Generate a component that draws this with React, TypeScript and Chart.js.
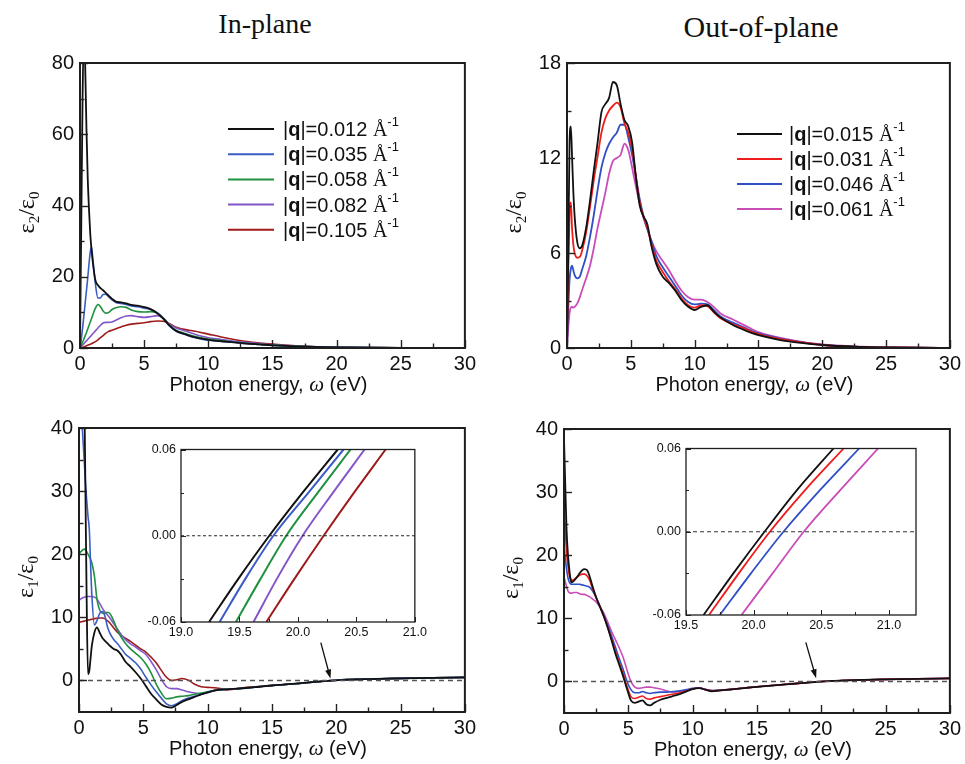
import React, { useEffect, useRef } from 'react';
import { Chart, registerables } from 'chart.js';

Chart.register(...registerables);

const SANS = '"Liberation Sans", Arial, Helvetica, sans-serif';
const SERIF = '"Liberation Serif", "Times New Roman", serif';

// ---------------- data ----------------
const inPlaneQ = ['0.012', '0.035', '0.058', '0.082', '0.105'];
const outPlaneQ = ['0.015', '0.031', '0.046', '0.061'];
const inPlaneColors = ['#111111', '#3b5cc4', '#1f9140', '#8457c9', '#9e1b1b'];
const outPlaneColors = ['#111111', '#f01c1c', '#2f4fc4', '#c84db8'];

// In-plane eps2 (top left)
const energyInE2 = [0, 0.1, 0.2, 0.3, 0.4, 0.5, 0.6, 0.7, 0.8, 0.9, 1.0, 1.2, 1.4, 1.6, 1.8, 2.0, 2.2, 2.5, 2.8, 3.2, 3.6, 4.0, 4.5, 5.0, 5.5, 6.0, 6.5, 7.0, 7.5, 8.0, 8.5, 9.0, 9.5, 10, 11, 12, 13, 14, 15, 17.5, 20, 22.5, 25, 27.5, 30];
const e2In_q012 = [0, 35, 70, 88, 80, 62, 48, 39, 32, 27.5, 24, 19, 17.6, 16.8, 16.2, 15.5, 14.8, 13.8, 13.0, 12.8, 12.5, 12.1, 11.9, 11.5, 10.9, 9.8, 8.2, 6.2, 4.8, 4.1, 3.5, 3.0, 2.6, 2.3, 1.9, 1.6, 1.25, 1.0, 0.75, 0.4, 0.2, 0.1, 0.06, 0.03, 0.02];
const e2In_q035 = [0, 2.5, 5.5, 9, 12.5, 16, 19.5, 23.5, 27, 28.3, 25, 18, 14.0, 14.1, 15.0, 15.1, 14.5, 13.5, 12.8, 12.5, 12.2, 11.8, 11.6, 11.2, 10.8, 9.9, 8.3, 6.1, 4.7, 4.0, 3.4, 2.9, 2.5, 2.2, 1.9, 1.6, 1.25, 1.0, 0.75, 0.4, 0.2, 0.1, 0.06, 0.03, 0.02];
const e2In_q058 = [0, 0.8, 1.6, 2.5, 3.4, 4.3, 5.3, 6.3, 7.3, 8.3, 9.3, 11.2, 12.2, 11.6, 10.4, 9.8, 9.9, 10.8, 11.3, 11.6, 11.4, 10.7, 10.2, 10.1, 10.2, 9.8, 8.4, 6.3, 4.9, 4.3, 3.7, 3.2, 2.8, 2.5, 2.1, 1.7, 1.3, 1.05, 0.8, 0.42, 0.2, 0.1, 0.06, 0.03, 0.02];
const e2In_q082 = [0, 0.4, 0.8, 1.2, 1.6, 2.0, 2.4, 2.8, 3.2, 3.6, 4.0, 4.8, 5.6, 6.4, 7.0, 7.2, 7.2, 7.3, 7.8, 8.5, 9.0, 9.1, 8.8, 8.6, 8.8, 9.1, 8.4, 6.6, 5.6, 5.0, 4.4, 3.8, 3.3, 2.9, 2.4, 1.9, 1.5, 1.2, 0.9, 0.45, 0.22, 0.11, 0.06, 0.03, 0.02];
const e2In_q105 = [0, 0.1, 0.2, 0.3, 0.45, 0.6, 0.75, 0.9, 1.05, 1.2, 1.4, 1.8, 2.3, 2.9, 3.5, 4.1, 4.6, 5.0, 5.4, 5.9, 6.4, 6.7, 6.9, 7.1, 7.4, 7.6, 7.5, 6.8, 5.8, 5.3, 5.0, 4.7, 4.3, 3.9, 3.1, 2.4, 1.8, 1.4, 1.1, 0.5, 0.25, 0.12, 0.07, 0.04, 0.02];

// Out-of-plane eps2 (top right)
const energyOutE2 = [0, 0.1, 0.2, 0.3, 0.4, 0.5, 0.6, 0.8, 1.0, 1.2, 1.5, 1.8, 2.1, 2.4, 2.7, 3.0, 3.3, 3.6, 3.9, 4.2, 4.5, 4.8, 5.1, 5.4, 5.7, 6.0, 6.3, 6.6, 7.0, 7.5, 8.0, 8.5, 9.0, 9.5, 10, 10.5, 11, 11.5, 12, 13, 14, 15, 17.5, 20, 22.5, 25, 27.5, 30];
const e2Out_q015 = [0, 6, 13, 14.0, 12.0, 9.8, 8.3, 6.7, 6.3, 6.5, 7.6, 9.3, 11.2, 13.0, 14.9, 15.4, 15.8, 16.8, 16.6, 15.4, 14.4, 14.0, 13.0, 10.8, 9.0, 8.3, 7.8, 6.5, 5.3, 4.5, 4.1, 3.6, 3.0, 2.6, 2.4, 2.6, 2.7, 2.3, 1.95, 1.45, 1.1, 0.82, 0.4, 0.19, 0.08, 0.04, 0.02, 0.01];
const e2Out_q031 = [0, 5, 8.5, 9.2, 7.5, 6.5, 6.0, 5.7, 5.75, 6.2, 7.3, 8.9, 10.6, 12.1, 13.6, 14.5, 15.0, 15.3, 15.5, 15.2, 14.2, 13.6, 12.6, 10.8, 9.2, 8.3, 7.6, 6.6, 5.5, 4.8, 4.2, 3.7, 3.1, 2.7, 2.55, 2.7, 2.65, 2.25, 1.9, 1.5, 1.2, 0.88, 0.46, 0.19, 0.08, 0.04, 0.02, 0.01];
const e2Out_q046 = [0, 2.5, 4.3, 5.0, 5.2, 4.9, 4.6, 4.4, 4.5, 5.0, 5.8, 7.0, 8.4, 10.0, 11.4, 12.3, 12.9, 13.3, 13.6, 14.1, 14.1, 13.3, 12.2, 10.8, 9.4, 8.3, 7.5, 6.8, 5.8, 5.1, 4.5, 3.9, 3.3, 2.9, 2.75, 2.8, 2.75, 2.4, 2.0, 1.6, 1.25, 0.92, 0.48, 0.2, 0.09, 0.04, 0.02, 0.01];
const e2Out_q061 = [0, 1.3, 2.2, 2.55, 2.6, 2.55, 2.6, 2.8, 3.2, 3.7, 4.4, 5.2, 6.3, 7.6, 8.7, 9.8, 11.0, 11.8, 12.0, 12.2, 12.9, 12.5, 11.4, 10.2, 9.1, 8.2, 7.5, 6.8, 6.1, 5.5, 4.9, 4.2, 3.6, 3.2, 3.05, 3.05, 2.9, 2.6, 2.2, 1.8, 1.4, 1.0, 0.52, 0.22, 0.1, 0.05, 0.02, 0.01];

// In-plane eps1 (bottom left)
const energyInE1 = [0, 0.1, 0.2, 0.3, 0.4, 0.5, 0.6, 0.7, 0.8, 0.9, 1.0, 1.2, 1.4, 1.6, 1.8, 2.0, 2.2, 2.4, 2.7, 3.0, 3.3, 3.6, 4.0, 4.4, 4.8, 5.2, 5.6, 6.0, 6.4, 6.8, 7.2, 7.6, 8.0, 8.5, 9.0, 9.5, 10, 10.5, 11, 11.5, 12, 13, 14, 15, 17.5, 20, 22.5, 25, 27.5, 30];
const e1In_q012 = [110, 90, 72, 58, 48, 30, 12, 1.0, 1.5, 3.5, 5.5, 7.6, 8.4, 7.6, 6.8, 6.3, 5.9, 5.5, 5.0, 4.7, 4.0, 3.0, 2.2, 1.3, 0.3, -0.9, -2.1, -3.0, -3.8, -4.2, -4.3, -3.9, -3.4, -3.0, -2.6, -2.2, -1.9, -1.6, -1.45, -1.4, -1.35, -1.2, -1.0, -0.8, -0.4, 0.02, 0.22, 0.33, 0.42, 0.48];
const e1In_q035 = [50, 46, 42, 38.5, 35, 31.5, 28.5, 26, 24, 18.5, 13.5, 8.8, 9.5, 10.6, 10.9, 10.3, 8.6, 7.5, 6.5, 5.8, 5.0, 4.2, 3.5, 2.8, 1.8, 0.5, -0.7, -1.8, -2.8, -3.7, -4.0, -3.7, -3.2, -2.8, -2.5, -2.2, -1.9, -1.6, -1.45, -1.4, -1.35, -1.2, -1.0, -0.8, -0.4, 0.02, 0.22, 0.33, 0.42, 0.48];
const e1In_q058 = [20, 20.3, 20.5, 20.7, 20.8, 20.7, 20.4, 20.0, 19.6, 19.2, 18.6, 16.5, 12.8, 11.2, 10.7, 10.6, 10.8, 10.6, 9.4, 7.9, 6.8, 5.9, 5.0, 4.3, 3.6, 2.6, 1.2, -0.6, -2.0, -2.9, -2.8, -2.6, -2.5, -2.4, -2.2, -2.0, -1.8, -1.6, -1.45, -1.4, -1.35, -1.2, -1.0, -0.8, -0.4, 0.02, 0.22, 0.33, 0.42, 0.48];
const e1In_q082 = [12.7, 12.85, 13.0, 13.1, 13.2, 13.25, 13.3, 13.3, 13.3, 13.3, 13.3, 13.2, 12.9, 12.2, 11.5, 10.9, 10.4, 9.9, 9.0, 8.1, 7.2, 6.5, 5.8, 5.3, 4.7, 4.1, 3.0, 1.7, 0.2, -1.0, -1.3, -1.3, -1.5, -1.8, -2.0, -2.1, -1.9, -1.6, -1.45, -1.4, -1.35, -1.2, -1.0, -0.8, -0.4, 0.02, 0.22, 0.33, 0.42, 0.48];
const e1In_q105 = [9.2, 9.25, 9.3, 9.35, 9.4, 9.45, 9.5, 9.55, 9.6, 9.65, 9.7, 9.8, 9.85, 9.9, 9.9, 9.8, 9.5, 9.1, 8.3, 7.6, 7.1, 6.7, 6.2, 5.6, 5.0, 4.5, 3.7, 2.8, 1.6, 0.5, 0.0, 0.1, 0.3, 0.05, -0.6, -1.0, -1.1, -1.15, -1.3, -1.5, -1.4, -1.1, -0.95, -0.8, -0.4, 0.02, 0.22, 0.33, 0.42, 0.48];

// Out-of-plane eps1 (bottom right)
const energyOutE1 = [0, 0.1, 0.2, 0.3, 0.4, 0.5, 0.6, 0.8, 1.0, 1.2, 1.4, 1.6, 1.8, 2.0, 2.2, 2.5, 2.8, 3.1, 3.4, 3.7, 4.0, 4.3, 4.6, 4.9, 5.2, 5.5, 5.8, 6.1, 6.4, 6.7, 7.0, 7.5, 8.0, 8.5, 9.0, 9.5, 10, 10.5, 11, 11.5, 12, 13, 14, 15, 17.5, 20, 22.5, 25, 27.5, 30];
const e1Out_q015 = [38.5, 31, 24, 20.3, 18, 16.3, 15.7, 16.0, 16.5, 17.1, 17.6, 17.8, 17.6, 16.6, 15.2, 13.3, 11.8, 10.3, 8.5, 6.5, 4.4, 2.6, 0.8, -1.2, -3.0, -3.4, -3.2, -3.0, -3.6, -3.8, -3.4, -2.9, -2.6, -2.3, -2.0, -1.6, -1.2, -1.05, -1.3, -1.55, -1.45, -1.25, -1.05, -0.85, -0.42, -0.02, 0.2, 0.33, 0.42, 0.48];
const e1Out_q031 = [28.5, 24, 20.5, 18.5, 17, 16.3, 16.0, 16.2, 16.5, 16.8, 17.0, 17.0, 16.7, 16.0, 14.8, 13.3, 11.8, 10.3, 8.6, 6.7, 4.7, 2.9, 1.2, -0.8, -2.4, -2.7, -2.5, -2.3, -2.7, -2.8, -2.6, -2.4, -2.2, -2.0, -1.8, -1.5, -1.2, -1.05, -1.3, -1.5, -1.45, -1.25, -1.05, -0.85, -0.42, -0.02, 0.2, 0.33, 0.42, 0.48];
const e1Out_q046 = [21.5, 19.5, 17.8, 16.5, 15.8, 15.5, 15.4, 15.4, 15.4, 15.4, 15.3, 15.2, 15.1, 14.9, 14.4, 13.3, 11.9, 10.5, 8.9, 7.2, 5.4, 3.6, 1.9, 0.0, -1.3, -1.8, -1.8, -1.6, -1.8, -1.9, -1.8, -1.7, -1.7, -1.6, -1.5, -1.3, -1.1, -1.0, -1.3, -1.45, -1.4, -1.25, -1.05, -0.85, -0.42, -0.02, 0.2, 0.33, 0.42, 0.48];
const e1Out_q061 = [16.5, 15.8, 15.0, 14.4, 14.1, 14.0, 14.0, 14.1, 14.1, 13.9, 13.8, 13.8, 13.6, 13.4, 13.1, 12.6, 11.8, 10.8, 9.4, 7.9, 6.6, 5.3, 3.8, 1.8, 0.0, -0.9, -1.1, -1.0, -0.9, -0.9, -1.0, -1.2, -1.5, -1.7, -1.6, -1.4, -1.15, -1.0, -1.25, -1.45, -1.4, -1.25, -1.05, -0.85, -0.42, -0.02, 0.2, 0.33, 0.42, 0.5];

// Insets: zero crossing region (eps1 values vs energy)
const insetEps1 = [-0.06, -0.03, 0, 0.03, 0.06];
const insetInE_q012 = [19.24, 19.49, 19.755, 20.04, 20.34];
const insetInE_q035 = [19.33, 19.55, 19.79, 20.09, 20.39];
const insetInE_q058 = [19.47, 19.68, 19.90, 20.17, 20.45];
const insetInE_q082 = [19.62, 19.82, 20.04, 20.30, 20.57];
const insetInE_q105 = [19.73, 19.97, 20.22, 20.48, 20.75];
const insetOutE_q015 = [19.63, 19.85, 20.08, 20.32, 20.59];
const insetOutE_q031 = [19.67, 19.89, 20.12, 20.38, 20.665];
const insetOutE_q046 = [19.75, 19.98, 20.22, 20.49, 20.78];
const insetOutE_q061 = [19.91, 20.14, 20.37, 20.64, 20.92];

// tick values
const energyTicks = [0, 5, 10, 15, 20, 25, 30];
const e2InTicks = [0, 20, 40, 60, 80];
const e2OutTicks = [0, 6, 12, 18];
const e1Ticks = [0, 10, 20, 30, 40];
const insetYTicks = [-0.06, 0, 0.06];
const insetInXTicks = [19.0, 19.5, 20.0, 20.5, 21.0];
const insetOutXTicks = [19.5, 20.0, 20.5, 21.0];

// zero reference & arrows (data coordinates)
const zeroLineE = [0, 30];
const arrowIn = { from: { x: 18.8, y: 6.0 }, to: { x: 19.55, y: 0.3 } };
const arrowOut = { from: { x: 18.8, y: 6.2 }, to: { x: 19.6, y: 0.5 } };

// ---------------- helpers ----------------
type Pt = { x: number; y: number };
const pts = (xs: number[], ys: number[]): Pt[] => xs.map((x, i) => ({ x, y: ys[i] }));

type Run = { t: string; f: string; dy?: number };
function runsWidth(ctx: CanvasRenderingContext2D, runs: Run[]) {
  let w = 0;
  for (const r of runs) { ctx.font = r.f; w += ctx.measureText(r.t).width; }
  return w;
}
function drawRuns(ctx: CanvasRenderingContext2D, runs: Run[], x: number, y: number) {
  let cx = x;
  ctx.textAlign = 'left';
  ctx.textBaseline = 'alphabetic';
  for (const r of runs) {
    ctx.font = r.f;
    ctx.fillText(r.t, cx, y + (r.dy || 0));
    cx += ctx.measureText(r.t).width;
  }
}
function minorValues(min: number, max: number, major: number[], step: number) {
  const out: number[] = [];
  const n0 = Math.ceil(min / step - 1e-6), n1 = Math.floor(max / step + 1e-6);
  for (let k = n0; k <= n1; k++) {
    const v = k * step;
    if (major.some((m) => Math.abs(m - v) < step * 1e-3)) continue;
    if (Math.abs(v - min) < step * 1e-3 || Math.abs(v - max) < step * 1e-3) continue;
    out.push(v);
  }
  return out;
}

interface SeriesSpec { data: Pt[]; color: string; width: number; dash?: number[] }
interface AxisSpec { min: number; max: number; major: number[]; minorStep: number; dec: number; size: number; pad: number }
interface PanelSpec {
  box: [number, number, number, number];
  area: [number, number, number, number];
  x: AxisSpec;
  y: AxisSpec;
  series: SeriesSpec[];
  frameWidth: number;
  majorLen: number;
  minorLen: number;
  ySub?: string;
  xTitle?: boolean;
  legend?: { x: number; y: number; lineLen: number; gap: number; rowH: number; items: { color: string; q: string }[] };
  arrow?: { from: Pt; to: Pt };
}

function decorPlugin(spec: PanelSpec) {
  return {
    id: 'decor',
    afterDatasetsDraw(chart: any) {
      const ctx: CanvasRenderingContext2D = chart.ctx;
      const a = chart.chartArea;
      const xs = chart.scales.x;
      const ys = chart.scales.y;
      ctx.save();
      ctx.strokeStyle = '#222';
      ctx.fillStyle = '#111';
      // inward ticks
      ctx.lineWidth = spec.frameWidth > 1.5 ? 1.4 : 1;
      const drawX = (vals: number[], len: number) => {
        for (const v of vals) {
          const px = Math.round(xs.getPixelForValue(v)) + 0.5;
          ctx.beginPath(); ctx.moveTo(px, a.bottom); ctx.lineTo(px, a.bottom - len); ctx.stroke();
        }
      };
      const drawY = (vals: number[], len: number) => {
        for (const v of vals) {
          const py = Math.round(ys.getPixelForValue(v)) + 0.5;
          ctx.beginPath(); ctx.moveTo(a.left, py); ctx.lineTo(a.left + len, py); ctx.stroke();
        }
      };
      drawX(spec.x.major, spec.majorLen);
      drawX(minorValues(spec.x.min, spec.x.max, spec.x.major, spec.x.minorStep), spec.minorLen);
      drawY(spec.y.major, spec.majorLen);
      drawY(minorValues(spec.y.min, spec.y.max, spec.y.major, spec.y.minorStep), spec.minorLen);
      // frame
      ctx.lineWidth = spec.frameWidth;
      ctx.strokeStyle = '#1e1e1e';
      ctx.strokeRect(a.left, a.top, a.right - a.left, a.bottom - a.top);

      // arrow
      if (spec.arrow) {
        const x1 = xs.getPixelForValue(spec.arrow.from.x), y1 = ys.getPixelForValue(spec.arrow.from.y);
        const x2 = xs.getPixelForValue(spec.arrow.to.x), y2 = ys.getPixelForValue(spec.arrow.to.y);
        const ang = Math.atan2(y2 - y1, x2 - x1);
        ctx.lineWidth = 1.3;
        ctx.strokeStyle = '#111';
        ctx.beginPath(); ctx.moveTo(x1, y1); ctx.lineTo(x2 - 6 * Math.cos(ang), y2 - 6 * Math.sin(ang)); ctx.stroke();
        ctx.beginPath();
        ctx.moveTo(x2, y2);
        ctx.lineTo(x2 - 9 * Math.cos(ang) + 3 * Math.sin(ang), y2 - 9 * Math.sin(ang) - 3 * Math.cos(ang));
        ctx.lineTo(x2 - 9 * Math.cos(ang) - 3 * Math.sin(ang), y2 - 9 * Math.sin(ang) + 3 * Math.cos(ang));
        ctx.closePath(); ctx.fill();
      }

      // y title (rotated)
      if (spec.ySub) {
        const runs: Run[] = [
          { t: 'ε', f: `24px ${SERIF}` },
          { t: spec.ySub, f: `15px ${SERIF}`, dy: 5 },
          { t: '/', f: `24px ${SERIF}` },
          { t: 'ε', f: `24px ${SERIF}` },
          { t: '0', f: `15px ${SERIF}`, dy: 5 },
        ];
        const w = runsWidth(ctx, runs);
        ctx.save();
        ctx.translate(a.left - 46, (a.top + a.bottom) / 2 + 7);
        ctx.rotate(-Math.PI / 2);
        drawRuns(ctx, runs, -w / 2, 0);
        ctx.restore();
      }
      // x title
      if (spec.xTitle) {
        const runs: Run[] = [
          { t: 'Photon energy, ', f: `20px ${SANS}` },
          { t: 'ω', f: `italic 21px ${SERIF}` },
          { t: ' (eV)', f: `20px ${SANS}` },
        ];
        const w = runsWidth(ctx, runs);
        drawRuns(ctx, runs, (a.left + a.right) / 2 - 4 - w / 2, a.bottom + 43);
      }
      // legend
      if (spec.legend) {
        const L = spec.legend;
        const ox = L.x - spec.box[0], oy = L.y - spec.box[1];
        L.items.forEach((it, i) => {
          const cy = oy + i * L.rowH;
          ctx.strokeStyle = it.color;
          ctx.lineWidth = 2;
          ctx.beginPath(); ctx.moveTo(ox, cy); ctx.lineTo(ox + L.lineLen, cy); ctx.stroke();
          ctx.fillStyle = '#111';
          drawRuns(ctx, [
            { t: '|', f: `20px ${SANS}` },
            { t: 'q', f: `bold 20px ${SANS}` },
            { t: '|=' + it.q + ' ', f: `20px ${SANS}` },
            { t: 'Å', f: `20px ${SERIF}` },
            { t: '-1', f: `13px ${SANS}`, dy: -10 },
          ], ox + L.lineLen + L.gap, cy + 7);
        });
      }
      ctx.restore();
    },
  };
}

function buildConfig(spec: PanelSpec): any {
  const [cl, ct, cw, ch] = spec.box;
  const [al, at, ar, ab] = spec.area;
  const axis = (ax: AxisSpec, isX: boolean) => ({
    type: 'linear',
    min: ax.min,
    max: ax.max,
    grid: { display: false, drawTicks: false },
    border: { display: false },
    afterBuildTicks: (s: any) => { s.ticks = ax.major.map((v) => ({ value: v })); },
    afterFit: (s: any) => {
      if (isX) s.height = ct + ch - ab; else s.width = al - cl;
    },
    ticks: {
      autoSkip: false,
      maxRotation: 0,
      minRotation: 0,
      padding: ax.pad,
      color: '#111',
      font: { family: SANS, size: ax.size },
      callback: (v: any) => Number(v).toFixed(ax.dec),
    },
  });
  return {
    type: 'line',
    data: {
      datasets: spec.series.map((s) => ({
        data: s.data,
        borderColor: s.color,
        borderWidth: s.width,
        borderDash: s.dash || [],
        pointRadius: 0,
        fill: false,
        cubicInterpolationMode: s.dash ? 'default' : 'monotone',
        tension: 0,
      })),
    },
    options: {
      responsive: false,
      maintainAspectRatio: false,
      animation: false,
      devicePixelRatio: 1,
      events: [],
      parsing: false,
      normalized: true,
      layout: { padding: { left: 0, top: at - ct, right: cl + cw - ar, bottom: 0 } },
      plugins: { legend: { display: false }, tooltip: { enabled: false }, title: { display: false } },
      scales: { x: axis(spec.x, true), y: axis(spec.y, false) },
    },
    plugins: [decorPlugin(spec)],
  };
}

function Panel({ spec }: { spec: PanelSpec }) {
  const ref = useRef<HTMLCanvasElement>(null);
  useEffect(() => {
    const chart = new Chart(ref.current as HTMLCanvasElement, buildConfig(spec));
    return () => chart.destroy();
  }, [spec]);
  const [l, t, w, h] = spec.box;
  return (
    <canvas
      ref={ref}
      width={w}
      height={h}
      style={{ position: 'absolute', left: l, top: t, width: w, height: h }}
    />
  );
}

// ---------------- panel specs ----------------
const xMain = (size = 20): AxisSpec => ({ min: 0, max: 30, major: energyTicks, minorStep: 2.5, dec: 0, size, pad: 4 });

const zeroDash = (color: string, dash: number[], width: number, xs: number[]): SeriesSpec => ({
  data: xs.map((x) => ({ x, y: 0 })),
  color,
  width,
  dash,
});

const topLeft: PanelSpec = {
  box: [0, 40, 480, 360],
  area: [80, 63, 468, 348],
  x: xMain(),
  y: { min: 0, max: 80, major: e2InTicks, minorStep: 10, dec: 0, size: 20, pad: 6 },
  series: [
    { data: pts(energyInE2, e2In_q012), color: inPlaneColors[0], width: 1.8 },
    { data: pts(energyInE2, e2In_q035), color: inPlaneColors[1], width: 1.6 },
    { data: pts(energyInE2, e2In_q058), color: inPlaneColors[2], width: 1.6 },
    { data: pts(energyInE2, e2In_q082), color: inPlaneColors[3], width: 1.6 },
    { data: pts(energyInE2, e2In_q105), color: inPlaneColors[4], width: 1.6 },
  ],
  frameWidth: 2,
  majorLen: 8,
  minorLen: 4.5,
  ySub: '2',
  xTitle: true,
  legend: { x: 228, y: 129, lineLen: 46, gap: 9, rowH: 25.2, items: inPlaneQ.map((q, i) => ({ q, color: inPlaneColors[i] })) },
};

const topRight: PanelSpec = {
  box: [480, 40, 485, 360],
  area: [567, 63, 953, 348],
  x: xMain(),
  y: { min: 0, max: 18, major: e2OutTicks, minorStep: 3, dec: 0, size: 20, pad: 6 },
  series: [
    { data: pts(energyOutE2, e2Out_q015), color: outPlaneColors[0], width: 1.8 },
    { data: pts(energyOutE2, e2Out_q031), color: outPlaneColors[1], width: 1.8 },
    { data: pts(energyOutE2, e2Out_q046), color: outPlaneColors[2], width: 1.8 },
    { data: pts(energyOutE2, e2Out_q061), color: outPlaneColors[3], width: 1.8 },
  ],
  frameWidth: 2,
  majorLen: 8,
  minorLen: 4.5,
  ySub: '2',
  xTitle: true,
  legend: { x: 737, y: 134, lineLen: 45, gap: 7, rowH: 25, items: outPlaneQ.map((q, i) => ({ q, color: outPlaneColors[i] })) },
};

const bottomLeft: PanelSpec = {
  box: [0, 405, 480, 359],
  area: [79, 428, 466, 712],
  x: xMain(),
  y: { min: -5, max: 40, major: e1Ticks, minorStep: 5, dec: 0, size: 20, pad: 6 },
  series: [
    zeroDash('#555', [5, 4], 1.4, zeroLineE),
    { data: pts(energyInE1, e1In_q012), color: inPlaneColors[0], width: 1.8 },
    { data: pts(energyInE1, e1In_q035), color: inPlaneColors[1], width: 1.6 },
    { data: pts(energyInE1, e1In_q058), color: inPlaneColors[2], width: 1.6 },
    { data: pts(energyInE1, e1In_q082), color: inPlaneColors[3], width: 1.6 },
    { data: pts(energyInE1, e1In_q105), color: inPlaneColors[4], width: 1.6 },
  ],
  frameWidth: 2,
  majorLen: 8,
  minorLen: 4.5,
  ySub: '1',
  xTitle: true,
  arrow: arrowIn,
};

const bottomRight: PanelSpec = {
  box: [480, 405, 485, 359],
  area: [564, 429, 951, 713],
  x: xMain(),
  y: { min: -5, max: 40, major: e1Ticks, minorStep: 5, dec: 0, size: 20, pad: 6 },
  series: [
    zeroDash('#555', [5, 4], 1.4, zeroLineE),
    { data: pts(energyOutE1, e1Out_q015), color: outPlaneColors[0], width: 1.8 },
    { data: pts(energyOutE1, e1Out_q031), color: outPlaneColors[1], width: 1.6 },
    { data: pts(energyOutE1, e1Out_q046), color: outPlaneColors[2], width: 1.6 },
    { data: pts(energyOutE1, e1Out_q061), color: outPlaneColors[3], width: 1.6 },
  ],
  frameWidth: 2,
  majorLen: 8,
  minorLen: 4.5,
  ySub: '1',
  xTitle: true,
  arrow: arrowOut,
};

const insetLeft: PanelSpec = {
  box: [125, 437, 305, 210],
  area: [181, 447, 418, 622],
  x: { min: 19, max: 21, major: insetInXTicks, minorStep: 0.25, dec: 1, size: 12.5, pad: 3 },
  y: { min: -0.06, max: 0.06, major: insetYTicks, minorStep: 0.03, dec: 2, size: 12.5, pad: 5 },
  series: [
    zeroDash('#222', [3, 2.5], 1, [19, 21]),
    { data: pts(insetInE_q012, insetEps1), color: inPlaneColors[0], width: 2 },
    { data: pts(insetInE_q035, insetEps1), color: inPlaneColors[1], width: 2 },
    { data: pts(insetInE_q058, insetEps1), color: inPlaneColors[2], width: 2 },
    { data: pts(insetInE_q082, insetEps1), color: inPlaneColors[3], width: 2 },
    { data: pts(insetInE_q105, insetEps1), color: inPlaneColors[4], width: 2 },
  ],
  frameWidth: 1.3,
  majorLen: 5,
  minorLen: 3,
};

const insetRight: PanelSpec = {
  box: [625, 436, 305, 205],
  area: [686, 446, 916, 615],
  x: { min: 19.5, max: 21.2, major: insetOutXTicks, minorStep: 0.25, dec: 1, size: 12.5, pad: 3 },
  y: { min: -0.06, max: 0.06, major: insetYTicks, minorStep: 0.03, dec: 2, size: 12.5, pad: 5 },
  series: [
    zeroDash('#333', [4, 3], 1.1, [19.5, 21.2]),
    { data: pts(insetOutE_q015, insetEps1), color: outPlaneColors[0], width: 1.8 },
    { data: pts(insetOutE_q031, insetEps1), color: outPlaneColors[1], width: 1.8 },
    { data: pts(insetOutE_q046, insetEps1), color: outPlaneColors[2], width: 1.8 },
    { data: pts(insetOutE_q061, insetEps1), color: outPlaneColors[3], width: 1.8 },
  ],
  frameWidth: 1.3,
  majorLen: 5,
  minorLen: 3,
};

const titleStyle = (cx: number, top: number, size: number): React.CSSProperties => ({
  position: 'absolute',
  left: cx - 150,
  top,
  width: 300,
  textAlign: 'center',
  fontFamily: SERIF,
  fontSize: size,
  lineHeight: `${size}px`,
  color: '#111',
  whiteSpace: 'nowrap',
});

export default function App() {
  return (
    <div style={{ position: 'absolute', left: 0, top: 0, width: 965, height: 764, background: '#fff', overflow: 'hidden' }}>
      <div style={titleStyle(265, 10, 28)}>In-plane</div>
      <div style={titleStyle(761, 12, 30)}>Out-of-plane</div>
      <Panel spec={topLeft} />
      <Panel spec={topRight} />
      <Panel spec={bottomLeft} />
      <Panel spec={bottomRight} />
      <Panel spec={insetLeft} />
      <Panel spec={insetRight} />
    </div>
  );
}
